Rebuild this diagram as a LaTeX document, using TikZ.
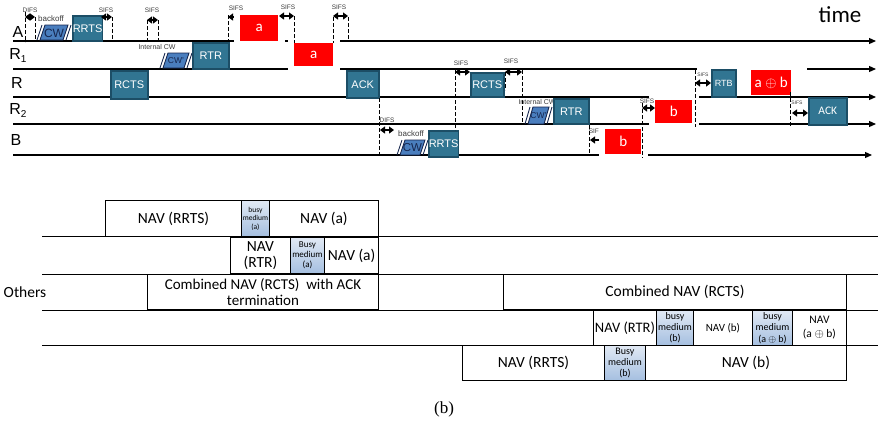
\documentclass[tikz,border=0pt]{standalone}
\usepackage{fontspec}
\setmainfont{Liberation Sans}
\newfontfamily\carl{Carlito}
\newfontfamily\capfont{Liberation Serif}
\usetikzlibrary{arrows.meta}

\definecolor{tealfill}{RGB}{49,117,146}
\definecolor{tealedge}{RGB}{28,78,102}
\definecolor{cwfill}{RGB}{74,126,190}
\definecolor{cwedge}{RGB}{22,38,78}
\definecolor{busytop}{RGB}{225,233,244}
\definecolor{busybot}{RGB}{165,191,224}
\definecolor{labelgray}{RGB}{60,60,60}

% box given by its corners: style, name, x1, y1, x2, y2, text
\newcommand{\bx}[7]{%
  \pgfmathsetmacro\bxw{#5-#3}\pgfmathsetmacro\bxh{#6-#4}%
  \node[#1,minimum width=\bxw pt,minimum height=\bxh pt,anchor=north west] (#2) at (#3,#4) {#7};}

% contention window: name, x1, y1, x2, y2, text, font size
\newcommand{\cwshape}[7]{%
  \filldraw[fill=cwfill,draw=cwedge,line width=0.9pt]
    (#2+3,#5) -- (#2+8,#3) -- (#4-3,#3) -- (#4-8,#5) -- cycle;
  \draw[cwedge,line width=0.9pt] (#2,#5) -- (#2+5,#3);
  \draw[cwedge,line width=0.9pt] (#4-5,#5) -- (#4,#3);
  \node[text=cwedge,inner sep=0,font=\fontsize{#7}{#7}\selectfont] (#1) at ({(#2+#4)/2},{(#3+#5)/2+0.5}) {#6};}

% inter-frame space marker: name, x1, x2, y
\newcommand{\ifsgap}[4]{%
  \coordinate (#1l) at (#2,#4); \coordinate (#1r) at (#3,#4);
  \draw[ifsarrow] (#1l) -- (#1r);}

\begin{document}
\begin{tikzpicture}[x=1pt,y=-1pt,
  tline/.style={line width=1.2pt,-{Triangle[length=7pt,width=6pt]}},
  ifsline/.style={line width=1pt,dash pattern=on 3.5pt off 2.5pt},
  ifsarrow/.style={line width=1.4pt,{Triangle[length=5pt,width=7pt]}-{Triangle[length=5pt,width=7pt]}},
  gaplabel/.style={text=labelgray,inner sep=0,font=\fontsize{6.5}{7}\selectfont},
  microlabel/.style={text=labelgray,inner sep=0,font=\fontsize{5}{6}\selectfont},
  rowlabel/.style={inner sep=0,font=\fontsize{16}{16}\selectfont},
  pkt/.style={draw=tealedge,line width=1.5pt,fill=tealfill,text=white,inner sep=0,font=\fontsize{11}{11}\selectfont},
  datapkt/.style={fill=red,text=white,inner sep=0,font=\carl\fontsize{15}{15}\selectfont},
  halo/.style={fill=white},
  navbox/.style={draw,line width=0.9pt,fill=white,inner sep=0,align=center,font=\carl\fontsize{15.5}{16}\selectfont},
  busybox/.style={navbox,top color=busytop,bottom color=busybot},
  navfont/.style 2 args={font=\carl\fontsize{#1}{#2}\selectfont},
]
\useasboundingbox (0,0) rectangle (878,429);

% ---------------- time lines ----------------
\coordinate (A0) at (13,41);  \coordinate (A1) at (876,41);
\coordinate (P0) at (13,69);  \coordinate (P1) at (876,69);
\coordinate (R0) at (13,97);  \coordinate (R1) at (876,97);
\coordinate (Q0) at (13,124); \coordinate (Q1) at (876,124);
\coordinate (B0) at (13,155); \coordinate (B1) at (872,155);
\foreach \s in {A,P,R,Q,B} \draw[tline] (\s0) -- (\s1);

\node[rowlabel] (labA) at (18,32) {A};
\node[rowlabel] (labR1) at (18,55) {R\raisebox{-3pt}{\fontsize{10}{10}\selectfont 1}};
\node[rowlabel] (labR) at (17,83) {R};
\node[rowlabel] (labR2) at (18,110) {R\raisebox{-3pt}{\fontsize{10}{10}\selectfont 2}};
\node[rowlabel] (labB) at (16,140) {B};

\node[inner sep=0,font=\carl\fontsize{23}{23}\selectfont] (time) at (840,15) {time};

% markers partly covered by the data frames
\node[gaplabel] (s3t) at (236,8) {SIFS};
\ifsgap{s3}{228}{240}{17}
\node[gaplabel] (s9t) at (596,131) {SIFS};
\draw[line width=1.4pt,{Triangle[length=5pt,width=7pt]}-] (590,140) -- (604,140);

% white surround of the data frames
\fill[halo] (234,11.5) rectangle (285,48);
\fill[halo] (288,39.5) rectangle (340,73);
\fill[halo] (599,125.5) rectangle (648,161);
\fill[halo] (649,95.5) rectangle (699,130);
\fill[halo] (697,62) rectangle (807,95.5);

% ---------------- station A ----------------
\node[gaplabel] (difsAt) at (30,10) {DIFS};
\draw[ifsline] (25,12) -- (25,42);
\draw[ifsline] (35,17) -- (35,42);
\ifsgap{difsA}{25}{35}{17}
\node[gaplabel,font=\fontsize{8}{8}\selectfont] (boA) at (51,19) {backoff};
\cwshape{cwA}{37}{25}{71}{40}{CW}{12}
\bx{pkt}{rrtsA}{72}{15}{101}{40}{RRTS}

\node[gaplabel] (s1t) at (106,10) {SIFS};
\ifsgap{s1}{101}{112}{17}
\draw[ifsline] (112,17) -- (112,40);

\node[gaplabel] (s2t) at (152,10) {SIFS};
\ifsgap{s2}{147}{158}{20}
\draw[ifsline] (147,20) -- (147,40);
\draw[ifsline] (158,20) -- (158,40);

% ---------------- relay R1 and R ----------------
\node[gaplabel,font=\fontsize{7}{7}\selectfont] (icw1) at (157,47) {Internal CW};
\cwshape{cwR1}{160}{53}{192}{68}{CW'}{8.5}
\bx{pkt}{rtr1}{192}{42}{228}{68}{RTR}
\bx{pkt}{rcts1}{110}{70}{147}{98}{RCTS}

\draw[ifsline] (228,15) -- (228,42);
\bx{datapkt}{dataA1}{240}{15}{278}{41}{a}

\node[gaplabel] (s4t) at (288,7) {SIFS};
\ifsgap{s4}{279}{294}{16}
\draw[ifsline] (294,16) -- (294,43);
\bx{datapkt}{dataA2}{294}{43}{333}{66}{a}

\node[gaplabel] (s5t) at (339,7) {SIFS};
\ifsgap{s5}{333}{348}{16}
\draw[ifsline] (333,17) -- (333,43);
\draw[ifsline] (348,17) -- (348,41);

\bx{pkt}{ack1}{346}{70}{378}{97}{ACK}
\draw[ifsline] (379,98) -- (379,157);

% ---------------- station B ----------------
\node[gaplabel] (difsBt) at (387,120) {DIFS};
\ifsgap{difsB}{380}{394}{130}
\node[gaplabel,font=\fontsize{8}{8}\selectfont] (boB) at (411,134) {backoff};
\cwshape{cwB}{397}{140}{428}{155}{CW}{11.5}
\bx{pkt}{rrtsB}{428}{130}{455}{156}{RRTS}
\draw[ifsline] (455,70) -- (455,130);

\node[gaplabel] (s6t) at (461,63) {SIFS};
\ifsgap{s6}{455}{470}{72}
\bx{pkt}{rcts2}{470}{72}{503}{96}{RCTS}

\node[gaplabel] (s7t) at (511,61) {SIFS};
\ifsgap{s7}{505}{522}{72}
\draw[ifsline] (505,72) -- (505,90);
\draw[ifsline] (522,70) -- (522,123);

\node[gaplabel,font=\fontsize{7}{7}\selectfont] (icw2) at (537,102) {Internal CW};
\cwshape{cwR2}{525}{107}{552}{124}{CW'}{8.5}
\bx{pkt}{rtr2}{553}{98}{588}{123}{RTR}

\draw[ifsline] (589,125) -- (589,156);
\bx{datapkt}{dataB1}{605}{129}{641}{154}{b}

\draw[ifsline] (642,103) -- (642,158);
\node[gaplabel] (s8t) at (647,101) {SIFS};
\ifsgap{s8}{642}{655}{108}
\bx{datapkt}{dataB2}{655}{100}{692}{123}{b}

% ---------------- network coded broadcast ----------------
\draw[ifsline] (695,70) -- (695,127);
\node[microlabel] (s10t) at (703,75) {SIFS};
\ifsgap{s10}{695}{711}{83}
\bx{pkt}{rtb}{711}{69}{735}{96}{\fontsize{9}{9}\selectfont RTB}
\bx{datapkt}{dataAB}{751}{70}{791}{95}{a $\oplus$ b}

\draw[ifsline] (790,92) -- (790,126);
\node[microlabel] (s11t) at (797,103) {SIFS};
\ifsgap{s11}{792}{808}{113}
\bx{pkt}{ack2}{808}{97}{846}{124}{\carl\fontsize{11.5}{11.5}\selectfont ACK}

% ---------------- NAV table ----------------
\foreach \yy in {236,274,310,345} \draw[line width=0.9pt] (42,\yy) -- (878,\yy);

\bx{navbox}{n11}{105}{200}{241}{236}{NAV (RRTS)}
\bx{busybox,navfont={7.5}{8.5}}{n12}{241}{200}{269}{236}{busy\\medium\\(a)}
\bx{navbox}{n13}{269}{200}{378}{236}{NAV (a)}

\bx{navbox}{n21}{230}{237}{290}{273}{NAV\\(RTR)}
\bx{busybox,navfont={9}{10}}{n22}{290}{237}{324}{273}{Busy\\medium\\(a)}
\bx{navbox,line width=1.3pt}{n23}{324}{237}{378}{273}{NAV (a)}

\node[inner sep=0,font=\carl\fontsize{15.5}{16}\selectfont] (others) at (25,292) {Others};
\bx{navbox,navfont={15}{16}}{n31}{147}{274}{378}{309}{Combined NAV (RCTS)\ \ with ACK\\termination}
\bx{navbox}{n32}{503}{274}{846}{309}{Combined NAV (RCTS)}

\bx{navbox,navfont={14.5}{15}}{n41}{593}{310}{656}{345}{NAV (RTR)}
\bx{busybox,navfont={10}{11}}{n42}{656}{310}{693}{345}{busy\\medium\\(b)}
\bx{navbox,navfont={11}{12}}{n43}{693}{310}{752}{345}{NAV (b)}
\bx{busybox,navfont={10}{11.5}}{n44}{752}{310}{792}{345}{busy\\medium\\(a $\oplus$ b)}
\bx{navbox,navfont={11.5}{14}}{n45}{792}{310}{846}{345}{NAV\\(a $\oplus$ b)}

\bx{navbox}{n51}{462}{345}{604}{380}{NAV (RRTS)}
\bx{busybox,navfont={10}{11}}{n52}{604}{345}{645}{380}{Busy\\medium\\(b)}
\bx{navbox}{n53}{645}{345}{846}{380}{NAV (b)}

\node[inner sep=0,font=\capfont\fontsize{17}{17}\selectfont] (caption) at (444,409) {(b)};
\end{tikzpicture}
\end{document}
